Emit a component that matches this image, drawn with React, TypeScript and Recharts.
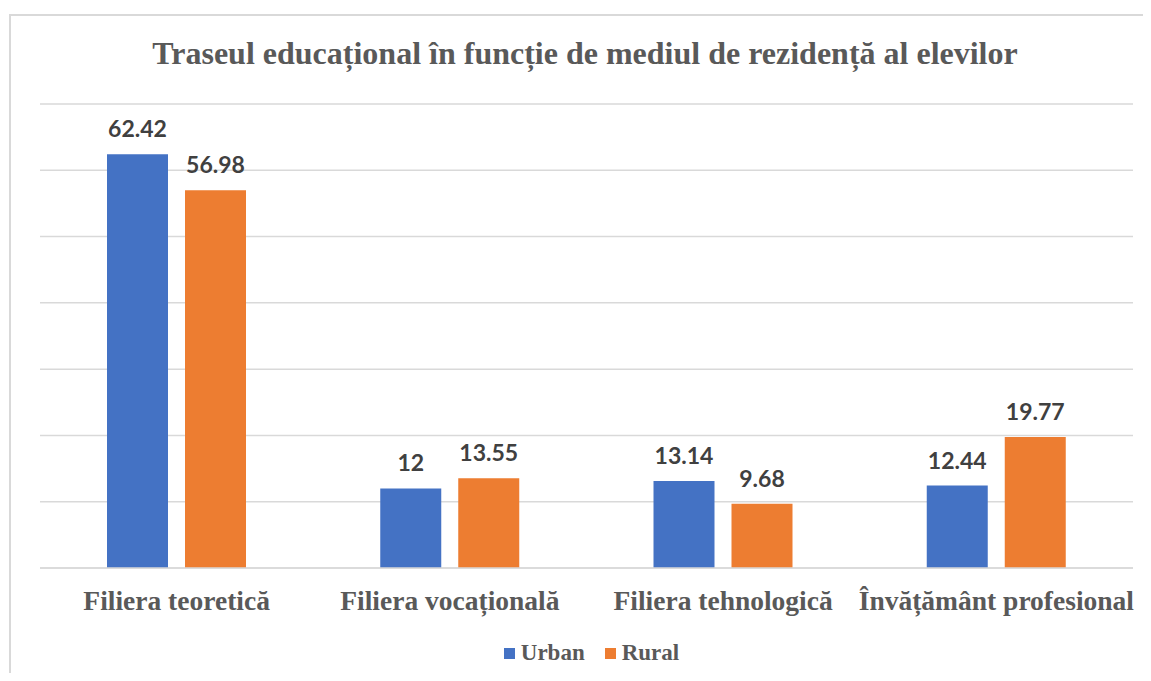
import { Bar, BarChart, CartesianGrid, LabelList, XAxis, YAxis } from "recharts"

const categories = ['Filiera teoretică', 'Filiera vocațională', 'Filiera tehnologică', 'Învățământ profesional']
const urban = [62.42, 12, 13.14, 12.44]
const rural = [56.98, 13.55, 9.68, 19.77]
const seriesNames = ['Urban', 'Rural']
const seriesColors = ['#4472c4', '#ed7d31']
const yTicks = [0, 10, 20, 30, 40, 50, 60, 70]

const data = categories.map((name, i) => ({ name, Urban: urban[i], Rural: rural[i] }))

const serif = '"Liberation Serif", "Times New Roman", serif'
const labelStyle = { fontFamily: 'Lato, "Open Sans", sans-serif', fontWeight: 700, fontSize: 23, fill: '#404040' }

function LegendBox() {
  return (
    <div style={{ position: 'absolute', left: 0, top: 632, width: 1167, display: 'flex', justifyContent: 'center', gap: 20, fontFamily: serif, fontWeight: 700, fontSize: 23, lineHeight: '26px', color: '#595959' }}>
      {seriesNames.map((n, i) => (
        <div key={n} style={{ display: 'flex', alignItems: 'center', gap: 6 }}>
          <span style={{ width: 11, height: 11, background: seriesColors[i], display: 'inline-block' }} />
          <span>{n}</span>
        </div>
      ))}
    </div>
  )
}

export default function App() {
  return (
    <div style={{ position: 'relative', width: 1143, height: 665, overflow: 'hidden' }}>
      <div style={{ position: 'absolute', left: 1, top: 6, width: 1300, height: 800, borderTop: '2px solid #d9d9d9', borderLeft: '2px solid #d9d9d9' }} />
      <div style={{ position: 'absolute', left: 0, top: 27, width: 1154, textAlign: 'center', fontFamily: serif, fontWeight: 700, fontSize: 32, color: '#595959' }}>
        Traseul educațional în funcție de mediul de rezidență al elevilor
      </div>
      <div style={{ position: 'absolute', left: 0, top: 0 }}>
        <BarChart width={1143} height={665} data={data} margin={{ top: 96, right: 18, bottom: 0, left: 32 }} barSize={61} barGap={17}>
          <CartesianGrid vertical={false} stroke="#d9d9d9" strokeWidth={1.5} />
          <XAxis dataKey="name" axisLine={{ stroke: '#d9d9d9', strokeWidth: 1.5 }} tickLine={false} interval={0} height={105}
            tick={{ fontFamily: serif, fontWeight: 700, fontSize: 27.5, fill: '#595959', dy: 14 }} />
          <YAxis hide domain={[0, 70]} ticks={yTicks} />
          <Bar dataKey="Urban" fill={seriesColors[0]} isAnimationActive={false}>
            <LabelList dataKey="Urban" position="top" offset={17} style={labelStyle} />
          </Bar>
          <Bar dataKey="Rural" fill={seriesColors[1]} isAnimationActive={false}>
            <LabelList dataKey="Rural" position="top" offset={17} style={labelStyle} />
          </Bar>
        </BarChart>
      </div>
      <LegendBox />
    </div>
  )
}
